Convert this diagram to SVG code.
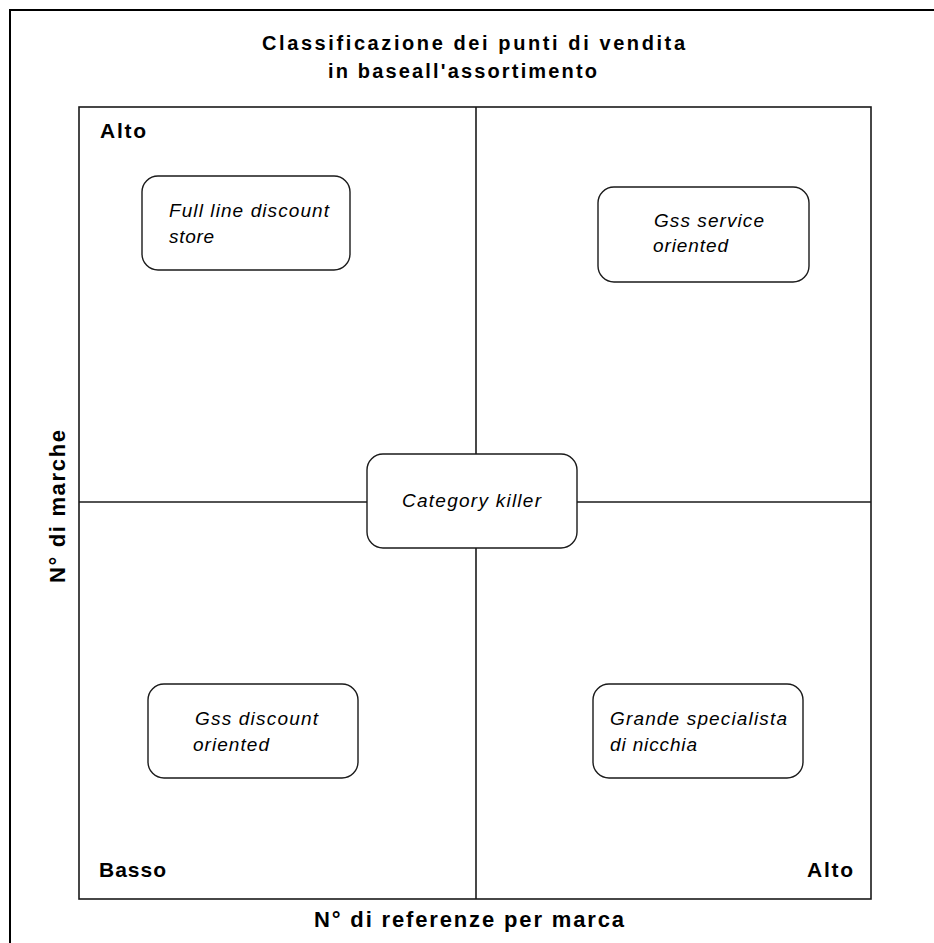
<svg xmlns="http://www.w3.org/2000/svg" width="934" height="943" viewBox="0 0 934 943">
<style>
.frame{fill:none;stroke:#000;stroke-width:2}
.axis{fill:none;stroke:#1a1a1a;stroke-width:1.6}
.box{fill:#fff;stroke:#1a1a1a;stroke-width:1.4}
.b{font-family:"Liberation Sans",Arial,sans-serif;font-weight:bold;fill:#000}
.t{font-family:"Liberation Sans",Arial,sans-serif;font-style:italic;font-size:19px;fill:#000}
</style>
<rect width="934" height="943" fill="#fff"/>
<path class="frame" d="M934,10 H10 V943"/>
<g id="title">
<text class="b" x="262" y="50" font-size="20" textLength="423" lengthAdjust="spacing">Classificazione dei punti di vendita</text>
<text class="b" x="328" y="78" font-size="20" textLength="269" lengthAdjust="spacing">in baseall'assortimento</text>
</g>
<g id="connectors">
<rect class="axis" x="79" y="107" width="792" height="792"/>
<line class="axis" x1="476" y1="107" x2="476" y2="899"/>
<line class="axis" x1="79" y1="502" x2="871" y2="502"/>
</g>
<g id="labels">
<text class="b" x="100" y="138" font-size="21" textLength="46" lengthAdjust="spacing">Alto</text>
<text class="b" x="99" y="877" font-size="21" textLength="67" lengthAdjust="spacing">Basso</text>
<text class="b" x="807" y="877" font-size="21" textLength="46" lengthAdjust="spacing">Alto</text>
<text class="b" x="314" y="927" font-size="22" textLength="310" lengthAdjust="spacing">N° di referenze per marca</text>
<text class="b" transform="translate(65,583) rotate(-90)" x="0" y="0" font-size="22" textLength="153" lengthAdjust="spacing">N° di marche</text>
</g>
<g id="full-line">
<rect class="box" x="142" y="176" width="208" height="94" rx="16"/>
<text class="t" x="169" y="217" textLength="160" lengthAdjust="spacing">Full line discount</text>
<text class="t" x="169" y="243" textLength="45" lengthAdjust="spacing">store</text>
</g>
<g id="gss-service">
<rect class="box" x="598" y="187" width="211" height="95" rx="16"/>
<text class="t" x="654" y="227" textLength="110" lengthAdjust="spacing">Gss service</text>
<text class="t" x="653" y="252" textLength="75" lengthAdjust="spacing">oriented</text>
</g>
<g id="category-killer">
<rect class="box" x="367" y="454" width="210" height="94" rx="16"/>
<text class="t" x="402" y="507" textLength="139" lengthAdjust="spacing">Category killer</text>
</g>
<g id="gss-discount">
<rect class="box" x="148" y="684" width="210" height="94" rx="16"/>
<text class="t" x="195" y="725" textLength="123" lengthAdjust="spacing">Gss discount</text>
<text class="t" x="193" y="751" textLength="76" lengthAdjust="spacing">oriented</text>
</g>
<g id="grande-specialista">
<rect class="box" x="593" y="684" width="210" height="94" rx="16"/>
<text class="t" x="610" y="725" textLength="177" lengthAdjust="spacing">Grande specialista</text>
<text class="t" x="610" y="751" textLength="87" lengthAdjust="spacing">di nicchia</text>
</g>
</svg>
